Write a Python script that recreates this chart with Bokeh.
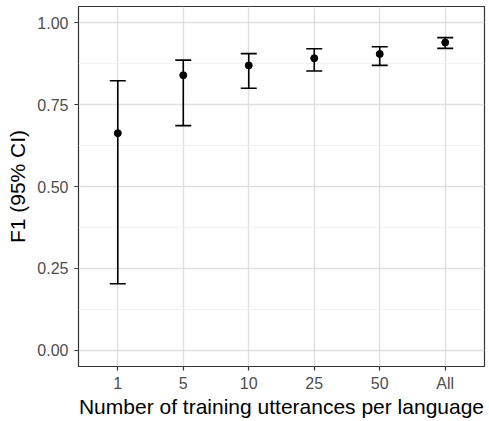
from bokeh.plotting import figure
from bokeh.models import ColumnDataSource, Range1d, FixedTicker, Whisker, TeeHead
from bokeh.embed import file_html
from bokeh.resources import INLINE

categories = ["1", "5", "10", "25", "50", "All"]
f1_mean = [0.663, 0.840, 0.870, 0.892, 0.905, 0.940]
f1_lower = [0.203, 0.686, 0.800, 0.853, 0.870, 0.922]
f1_upper = [0.823, 0.886, 0.906, 0.921, 0.927, 0.955]
y_ticks = [0.0, 0.25, 0.5, 0.75, 1.0]
y_tick_labels = ["0.00", "0.25", "0.50", "0.75", "1.00"]
y_minor = [0.125, 0.375, 0.625, 0.875]
x_title = "Number of training utterances per language"
y_title = "F1 (95% CI)"

xpos = list(range(1, len(categories) + 1))
src = ColumnDataSource(dict(x=xpos, mean=f1_mean, lower=f1_lower, upper=f1_upper))

FONT = "Liberation Sans"

p = figure(width=489, height=421, output_backend="svg", toolbar_location=None,
           x_range=Range1d(0.4, len(categories) + 0.6), y_range=Range1d(-0.05, 1.05),
           min_border_left=78, min_border_right=5, min_border_top=6,
           min_border_bottom=55)

p.background_fill_color = "white"
p.border_fill_color = "white"
p.outline_line_color = "#333333"
p.outline_line_width = 1.2

w = Whisker(source=src, base="x", lower="lower", upper="upper", dimension="height",
            line_color="black", line_width=1.6,
            lower_head=TeeHead(size=16, line_color="black", line_width=1.6),
            upper_head=TeeHead(size=16, line_color="black", line_width=1.6))
p.add_layout(w)
p.scatter("x", "mean", source=src, size=7, color="black")

p.xaxis.ticker = FixedTicker(ticks=xpos)
p.xaxis.major_label_overrides = {x: c for x, c in zip(xpos, categories)}
p.yaxis.ticker = FixedTicker(ticks=y_ticks, minor_ticks=y_minor)
p.yaxis.major_label_overrides = {t: l for t, l in zip(y_ticks, y_tick_labels)}

p.xaxis.axis_label = x_title
p.yaxis.axis_label = y_title

for ax in (p.xaxis, p.yaxis):
    ax.axis_line_color = None
    ax.major_tick_line_color = "#333333"
    ax.major_tick_line_width = 1.2
    ax.major_tick_out = 4
    ax.major_tick_in = 0
    ax.minor_tick_line_color = None
    ax.major_label_text_font = FONT
    ax.major_label_text_font_size = "16px"
    ax.major_label_text_color = "#4d4d4d"
    ax.axis_label_text_font = FONT
    ax.axis_label_text_font_size = "21px"
    ax.axis_label_text_font_style = "normal"
    ax.axis_label_text_color = "black"

p.xaxis.major_label_standoff = 4
p.xaxis.axis_label_standoff = 0
p.yaxis.major_label_standoff = 6
p.yaxis.axis_label_standoff = 5

p.xgrid.grid_line_color = "#e0e0e0"
p.xgrid.grid_line_width = 1.5
p.ygrid.grid_line_color = "#e0e0e0"
p.ygrid.grid_line_width = 1.5
p.ygrid.minor_grid_line_color = "#efefef"
p.ygrid.minor_grid_line_width = 0.8

open("out.html", "w").write(file_html(p, INLINE))
